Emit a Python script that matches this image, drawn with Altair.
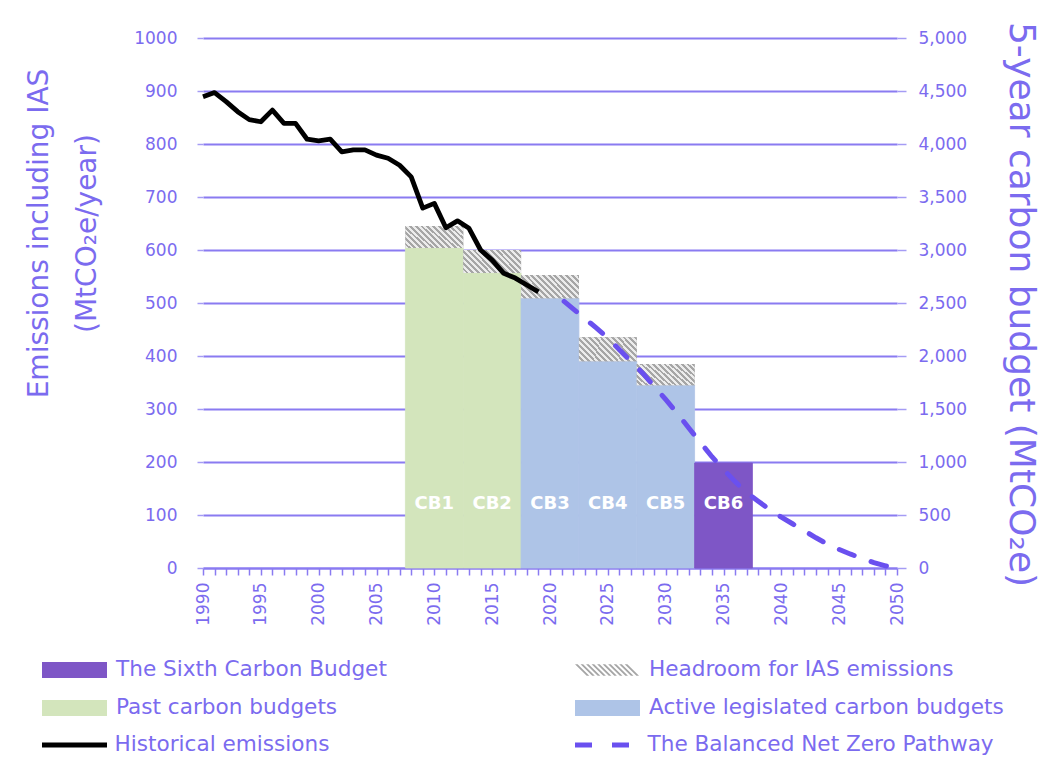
import altair as alt
import pandas as pd

# ---------------- data ----------------
hist_years = list(range(1990, 2020))
hist_values = [889, 897, 880, 861, 846, 842, 864, 839, 839, 809,
               806, 809, 785, 789, 789, 779, 773, 760, 738, 679,
               688, 642, 655, 641, 600, 581, 556, 547, 534, 521]

path_years = list(range(2020, 2051))
path_values = [524, 507, 489, 471, 453, 434, 412, 390, 368, 343,
               318, 292, 264, 237, 210, 186, 163, 142, 126, 110,
               96, 83, 70, 57, 45, 35, 26, 18, 10, 4, 0]

cb_names = ["CB1", "CB2", "CB3", "CB4", "CB5", "CB6"]
cb_start = [2008, 2013, 2018, 2023, 2028, 2033]
cb_budget = [3018, 2782, 2544, 1950, 1725, 990]          # MtCO2e per 5 years
cb_headroom = [208, 218, 220, 227, 200, 0]               # MtCO2e per 5 years
cb_group = ["Past carbon budgets", "Past carbon budgets",
            "Active legislated carbon budgets", "Active legislated carbon budgets",
            "Active legislated carbon budgets", "The Sixth Carbon Budget"]

left_ticks = list(range(0, 1001, 100))
right_ticks = list(range(0, 5001, 500))
year_ticks = list(range(1990, 2051))

budgets = pd.DataFrame({"name": cb_names, "start": cb_start, "budget": cb_budget,
                        "headroom": cb_headroom, "group": cb_group})
hist = pd.DataFrame({"year": hist_years, "value": hist_values})
hist["series"] = "Historical emissions"
path = pd.DataFrame({"year": path_years, "value": path_values})
path["series"] = "The Balanced Net Zero Pathway"

# ---------------- styles ----------------
FONT = "DejaVu Sans"
TEXT = "#7b6bef"
GRID = "#8a7bf1"
TICK = "#a59cf4"
C_CB6 = "#7e56c6"
C_PAST = "#d3e5bc"
C_ACTIVE = "#aec4e7"
C_HATCH = "#a6a6a6"
C_HIST = "#000000"
C_PATH = "#6a50ef"

RECT_SYMBOL = "M-1,-0.246H1V0.246H-1Z"
stripes = []
for k in range(10):
    x0 = -1 + 0.17 * k
    stripes.append(f"M{x0:.3f},-0.18L{x0 + 0.08:.3f},-0.18L{x0 + 0.44:.3f},0.18L{x0 + 0.36:.3f},0.18Z")
STRIPE_SYMBOL = "".join(stripes)

n_str = 14
stops = []
for i in range(n_str):
    a = round(i / n_str, 4)
    b = round((i + 0.5) / n_str, 4)
    c = round((i + 1) / n_str, 4)
    stops += [{"offset": a, "color": "#ececec"}, {"offset": b, "color": "#ececec"},
              {"offset": b, "color": "#a6a6a6"}, {"offset": c, "color": "#a6a6a6"}]
hatch_fill = {"gradient": "linear", "x1": 0, "y1": 1, "x2": 1.207, "y2": 0.524, "stops": stops}

xs = alt.Scale(domain=[1990, 2050], nice=False, zero=False)
ys_r = alt.Scale(domain=[0, 5000], nice=False)
ys_l = alt.Scale(domain=[0, 1000], nice=False)

x_axis = alt.Axis(values=year_ticks, labelExpr="datum.value % 5 === 0 ? datum.label : ''",
                  format="d", labelAngle=270, labelAlign="right", labelBaseline="middle",
                  labelPadding=7, labelFont=FONT, labelFontSize=17, labelColor=TEXT,
                  labelOverlap=False, labelFlush=False, labelBound=False,
                  tickSize=7, tickColor=GRID, tickWidth=1.5,
                  domainColor=GRID, domainWidth=2, grid=False, title=None)

right_axis = alt.Axis(orient="right", values=right_ticks, format=",.0f", grid=False, domain=False,
                      tickSize=9, tickColor=TICK, tickWidth=1.5, labelPadding=12,
                      labelFont=FONT, labelFontSize=17, labelColor=TEXT,
                      title="5-year carbon budget (MtCO\u2082e)", titleFont=FONT,
                      titleFontSize=36, titleFontWeight="normal", titleColor=TEXT,
                      titleAngle=90, titleAlign="center", titleBaseline="middle",
                      titleX=123, titleY=266)

left_axis = alt.Axis(orient="left", values=left_ticks, format="d", grid=True, gridColor=GRID,
                     gridWidth=2, domain=False, tickSize=6, tickColor=TICK, tickWidth=1.5,
                     labelPadding=20, labelFont=FONT, labelFontSize=17, labelColor=TEXT,
                     title=["Emissions including IAS", "(MtCO\u2082e/year)"], titleFont=FONT,
                     titleFontSize=28, titleFontWeight="normal", titleColor=TEXT,
                     titleAngle=270, titleAlign="center", titleBaseline="top",
                     titleLineHeight=48, titleX=-178, titleY=195)


def legend(lx, ly, symbol, **kw):
    return alt.Legend(orient="none", legendX=lx, legendY=ly, symbolType=symbol,
                      symbolSize=4225, labelLimit=600, **kw)


base_b = alt.Chart(budgets).transform_calculate(
    x0="datum.start - 0.5", x1="datum.start + 4.5",
    top="datum.budget + datum.headroom", mid="datum.start + 2",
    hlabel="'Headroom for IAS emissions'")


def bar_layer(group, color, lx, ly, first=False):
    return base_b.transform_filter(alt.datum.group == group).mark_rect(
        stroke=color, strokeWidth=0.8).encode(
        x=alt.X("x0:Q", scale=xs, axis=x_axis),
        x2="x1:Q",
        y=alt.Y("budget:Q", scale=ys_r, axis=right_axis if first else None),
        y2=alt.datum(0),
        fill=alt.Fill("group:N", scale=alt.Scale(domain=[group], range=[color]),
                      legend=legend(lx, ly, RECT_SYMBOL, symbolStrokeWidth=0, labelOffset=9),
                      title=None),
    )


ROW1, ROW2, ROW3 = 632, 670, 707   # centres relative to plot top
COL1, COL2 = -161, 372

past = bar_layer("Past carbon budgets", C_PAST, COL1, ROW2 - 32.5, first=True)
active = bar_layer("Active legislated carbon budgets", C_ACTIVE, COL2, ROW2 - 32.5)
cb6 = bar_layer("The Sixth Carbon Budget", C_CB6, COL1, ROW1 - 32.5)

head_leg = base_b.transform_filter(alt.datum.headroom > 0).mark_rect().encode(
    x=alt.X("x0:Q", scale=xs, axis=x_axis),
    x2="x1:Q",
    y=alt.Y("budget:Q", scale=ys_r, axis=None),
    y2="top:Q",
    fill=alt.Fill("hlabel:N", scale=alt.Scale(domain=["Headroom for IAS emissions"], range=[C_HATCH]),
                  legend=legend(COL2, ROW1 - 32.5, STRIPE_SYMBOL, symbolStrokeWidth=0, labelOffset=9),
                  title=None),
)

head_hatch = base_b.transform_filter(alt.datum.headroom > 0).mark_rect(fill=hatch_fill).encode(
    x=alt.X("x0:Q", scale=xs, axis=x_axis),
    x2="x1:Q",
    y=alt.Y("budget:Q", scale=ys_r, axis=None),
    y2="top:Q",
)

labels = base_b.mark_text(color="white", font=FONT, fontWeight="bold", fontSize=18,
                          baseline="middle", align="center").encode(
    x=alt.X("mid:Q", scale=xs, axis=x_axis),
    y=alt.YDatum(600, scale=ys_r, axis=None),
    text="name:N",
)

hist_line = alt.Chart(hist).mark_line(strokeWidth=4.8, strokeJoin="round").encode(
    x=alt.X("year:Q", scale=xs, axis=x_axis),
    y=alt.Y("value:Q", scale=ys_l, axis=left_axis),
    stroke=alt.Stroke("series:N", scale=alt.Scale(domain=["Historical emissions"], range=[C_HIST]),
                      legend=legend(COL1 - 2.5, ROW3 - 35, "stroke", symbolStrokeWidth=5, labelOffset=5),
                      title=None),
)

path_line = alt.Chart(path).mark_line(strokeWidth=5, strokeDash=[16, 18], strokeDashOffset=16,
                                      strokeCap="round").encode(
    x=alt.X("year:Q", scale=xs, axis=x_axis),
    y=alt.Y("value:Q", scale=ys_l, axis=None),
    stroke=alt.Stroke("series:N", scale=alt.Scale(domain=["The Balanced Net Zero Pathway"], range=[C_PATH]),
                      legend=legend(COL2 - 2.5, ROW3 - 35, "stroke", symbolStrokeWidth=5,
                                    symbolDash=[17, 20], labelOffset=5), title=None),
)

chart = alt.layer(past, active, cb6, head_leg, head_hatch, labels, hist_line, path_line).resolve_scale(
    y="independent", fill="independent", stroke="independent"
).properties(
    width=694, height=530,
    autosize=alt.AutoSizeParams(type="none"),
    padding={"left": 195, "top": 30, "right": 146, "bottom": 191},
).configure_view(stroke=None).configure_legend(
    padding=0, labelFont=FONT, labelFontSize=21.6, labelColor=TEXT
)

chart.save("out.html", embed_options={"renderer": "svg", "actions": False})
